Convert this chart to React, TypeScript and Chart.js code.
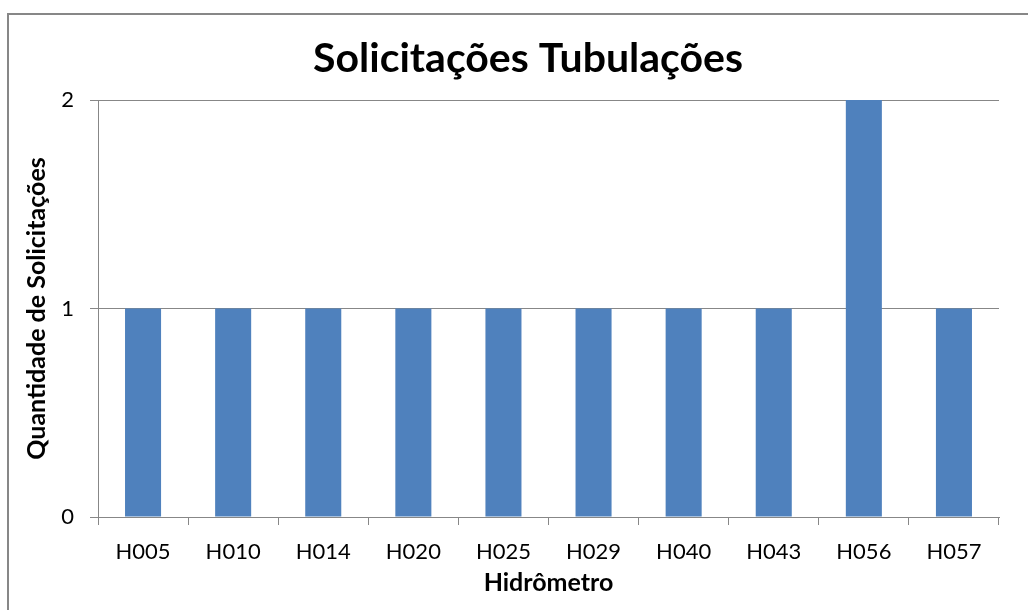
import React, { useEffect, useRef } from "react";
import { Chart, registerables } from "chart.js";

Chart.register(...registerables);

const categories = ["H005", "H010", "H014", "H020", "H025", "H029", "H040", "H043", "H056", "H057"];
const values = [1, 1, 1, 1, 1, 1, 1, 1, 2, 1];
const yTicks = [0, 1, 2];
const title = "Solicitações Tubulações";
const xTitle = "Hidrômetro";
const yTitle = "Quantidade de Solicitações";

const FONT = "Lato";
const GRAY = "#878787";

const titlePlugin = {
  id: "fixedTitle",
  afterDraw(chart: any) {
    const ctx = chart.ctx;
    ctx.save();
    ctx.fillStyle = "#000";
    ctx.font = `bold 41px ${FONT}`;
    ctx.textAlign = "center";
    ctx.textBaseline = "middle";
    ctx.fillText(title, 528, 59);
    ctx.restore();
  },
};

export default function App() {
  const ref = useRef<HTMLCanvasElement | null>(null);
  useEffect(() => {
    if (!ref.current) return;
    const chart = new Chart(ref.current, {
      type: "bar",
      data: {
        labels: categories,
        datasets: [
          {
            data: values,
            backgroundColor: "#4F81BD",
            barPercentage: 0.4,
            categoryPercentage: 1,
          },
        ],
      },
      plugins: [titlePlugin],
      options: {
        animation: false,
        responsive: false,
        maintainAspectRatio: false,
        layout: { padding: { left: 8, top: 100, right: 29, bottom: 0 } },
        plugins: {
          legend: { display: false },
          tooltip: { enabled: false },
          title: { display: false },
        },
        scales: {
          x: {
            afterFit: (s: any) => {
              s.height = 93;
            },
            grid: {
              offset: true,
              drawOnChartArea: false,
              drawTicks: true,
              tickLength: 8,
              color: GRAY,
            },
            border: { display: true, color: GRAY, width: 1 },
            ticks: {
              color: "#000",
              padding: 14,
              font: { family: FONT, size: 22 },
              maxRotation: 0,
            },
            title: {
              display: true,
              text: xTitle,
              color: "#000",
              font: { family: FONT, size: 25, weight: "bold", lineHeight: 1.2 },
              padding: { top: 0, bottom: 12 },
            },
          },
          y: {
            min: 0,
            max: 2,
            afterFit: (s: any) => {
              s.width = 90;
            },
            afterBuildTicks: (s: any) => {
              s.ticks = yTicks.map((v) => ({ value: v }));
            },
            grid: {
              color: GRAY,
              drawTicks: true,
              tickLength: 8,
            },
            border: { display: true, color: GRAY, width: 1 },
            ticks: {
              color: "#000",
              padding: 16,
              font: { family: FONT, size: 22 },
            },
            title: {
              display: true,
              text: yTitle,
              color: "#000",
              font: { family: FONT, size: 25, weight: "bold", lineHeight: 1.2 },
              padding: { top: 14, bottom: 0 },
            },
          },
        },
      },
    });
    return () => chart.destroy();
  }, []);
  return (
    <div style={{ position: "absolute", left: 0, top: 0, width: 1028, height: 610, background: "#fff" }}>
      <div
        style={{
          position: "absolute",
          left: 7,
          top: 13,
          width: 1100,
          height: 700,
          borderLeft: "2px solid " + GRAY,
          borderTop: "2px solid " + GRAY,
          boxSizing: "border-box",
        }}
      />
      <canvas ref={ref} width={1028} height={610} style={{ position: "absolute", left: 0, top: 0 }} />
    </div>
  );
}
